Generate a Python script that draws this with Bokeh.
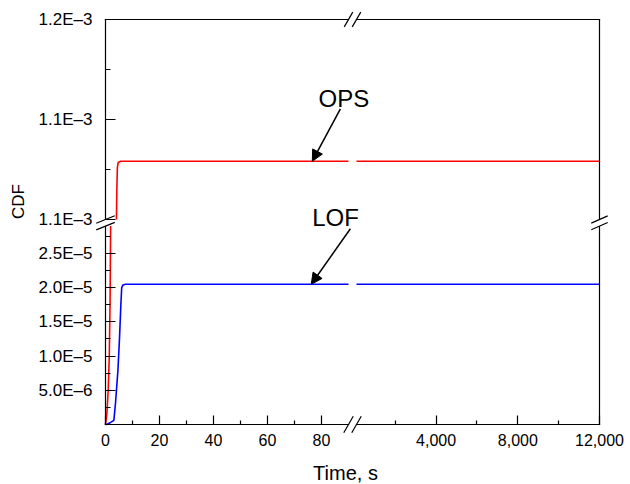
import math
from bokeh.plotting import figure
from bokeh.models import (Range1d, LinearAxis, FixedTicker, Label, Arrow,
                          NormalHead, CustomJSTickFormatter)
from bokeh.embed import file_html
from bokeh.resources import INLINE

# ---------------- data ----------------
# OPS curve: lower part (below the y break), upper part (left of x break), long-time part
ops_lo_t = [0.0, 0.5, 1.0, 1.4, 1.7, 1.9]
ops_lo_v = [0.0, 1.5e-6, 5.0e-6, 1.0e-5, 1.8e-5, 2.9e-5]
ops_up_t = [4.05, 4.2, 4.4, 4.7, 5.6, 90.0]
ops_up_v = [1.0e-3, 1.03e-3, 1.052e-3, 1.057e-3, 1.0583e-3, 1.0583e-3]
ops_long_t = [100.0, 12000.0]
ops_long_v = [1.0583e-3, 1.0583e-3]

# LOF curve
lof_t = [0.0, 0.4, 1.9, 3.1, 3.7, 4.6, 5.2, 5.7, 6.0, 6.5, 7.4, 90.0]
lof_v = [0.0, 0.0, 3.0e-7, 6.0e-7, 3.1e-6, 7.9e-6, 1.27e-5, 1.76e-5, 2.0e-5, 2.04e-5, 2.05e-5, 2.05e-5]
lof_long_t = [100.0, 12000.0]
lof_long_v = [2.05e-5, 2.05e-5]

# axis segments (data domains on each side of the breaks)
X_LEFT = (0.0, 90.0)
X_RIGHT = (100.0, 12000.0)
Y_UPPER = (1.0e-3, 1.2e-3)
Y_LOWER = (0.0, 2.9e-5)

# ticks and labels
x_left_ticks = [0, 20, 40, 60, 80]
x_left_minor = [10, 30, 50, 70]
x_left_labels = ["0", "20", "40", "60", "80"]
x_right_ticks = [4000, 8000, 12000]
x_right_minor = [2000, 6000, 10000]
x_right_labels = ["4,000", "8,000", "12,000"]
y_upper_ticks = [1.0e-3, 1.1e-3, 1.2e-3]
y_upper_minor = [1.05e-3, 1.15e-3]
y_upper_labels = ["1.1E\u20133", "1.1E\u20133", "1.2E\u20133"]
y_lower_ticks = [5e-6, 1e-5, 1.5e-5, 2e-5, 2.5e-5]
y_lower_minor = [2.5e-6, 7.5e-6, 1.25e-5, 1.75e-5, 2.25e-5, 2.75e-5]
y_lower_labels = ["5.0E\u20136", "1.0E\u20135", "1.5E\u20135", "2.0E\u20135", "2.5E\u20135"]

# ---------------- layout (pixels) ----------------
W, H = 630, 484
PX_L, PX_R, PX_T, PX_B = 105, 599, 19, 424
PX_XBRK = (348, 356)      # pixel end of left segment / start of right segment
PX_YBRK = (219, 225.6)    # pixel bottom of upper segment / top of lower segment
FONT = "Liberation Sans"


def x_range_for(v0, p0, v1, p1):
    k = (v1 - v0) / (p1 - p0)
    return Range1d(v0 - p0 * k, v0 + (W - p0) * k)


def y_range_for(v0, p0, v1, p1):
    k = (v1 - v0) / (p1 - p0)
    return Range1d(v0 + (H - p0) * k, v0 - p0 * k)


r_left = x_range_for(X_LEFT[0], PX_L, X_LEFT[1], PX_XBRK[0])
r_right = x_range_for(X_RIGHT[0], PX_XBRK[1], X_RIGHT[1], PX_R)
r_upper = y_range_for(Y_UPPER[0], PX_YBRK[0], Y_UPPER[1], PX_T)
r_lower = y_range_for(Y_LOWER[0], PX_B, Y_LOWER[1], PX_YBRK[1])


def px_x(v, r):
    return (v - r.start) / (r.end - r.start) * W


def px_y(v, r):
    return H - (v - r.start) / (r.end - r.start) * H


p = figure(width=W, height=H, x_range=r_left, y_range=r_lower,
           toolbar_location=None, output_backend="svg",
           x_axis_location=None, y_axis_location=None, min_border=0)
p.min_border_left = p.min_border_right = p.min_border_top = p.min_border_bottom = 0
p.extra_x_ranges = {"right": r_right, "px": Range1d(0, W)}
p.extra_y_ranges = {"upper": r_upper, "px": Range1d(H, 0)}
p.outline_line_color = None
p.background_fill_color = "white"
p.border_fill_color = "white"
for g in p.grid:
    g.visible = False


def fmt(ticks, labels):
    return CustomJSTickFormatter(args=dict(vals=ticks, labs=labels), code="""
        let b = 0;
        for (let i = 0; i < vals.length; i++) {
            if (Math.abs(vals[i] - tick) < Math.abs(vals[b] - tick)) b = i;
        }
        return labs[b];
    """)


def style(ax, tick_in, minor_in, standoff, size="16px"):
    ax.axis_line_color = "black"
    ax.axis_line_width = 1.2
    ax.axis_line_cap = "square"
    ax.major_tick_line_color = "black"
    ax.major_tick_line_width = 1.2
    ax.minor_tick_line_color = "black"
    ax.minor_tick_line_width = 1.2
    ax.major_tick_in = tick_in
    ax.major_tick_out = 0
    ax.minor_tick_in = minor_in
    ax.minor_tick_out = 0
    ax.major_label_standoff = standoff
    ax.major_label_text_font = FONT
    ax.major_label_text_font_size = size
    ax.major_label_text_color = "black"


def border(ax):
    ax.axis_line_color = "black"
    ax.axis_line_width = 1.2
    ax.axis_line_cap = "square"
    ax.major_tick_line_color = None
    ax.minor_tick_line_color = None
    ax.major_label_text_font_size = "0px"


# left y axes
ax = LinearAxis(y_range_name="upper", fixed_location=X_LEFT[0], bounds=Y_UPPER,
                ticker=FixedTicker(ticks=y_upper_ticks, minor_ticks=y_upper_minor),
                formatter=fmt(y_upper_ticks, y_upper_labels))
style(ax, 10, 5, 13, "17px")
p.add_layout(ax, "left")
ax = LinearAxis(fixed_location=X_LEFT[0], bounds=Y_LOWER,
                ticker=FixedTicker(ticks=y_lower_ticks, minor_ticks=y_lower_minor),
                formatter=fmt(y_lower_ticks, y_lower_labels))
style(ax, 10, 5, 13, "17px")
p.add_layout(ax, "left")

# bottom x axes
ax = LinearAxis(fixed_location=Y_LOWER[0], bounds=X_LEFT,
                ticker=FixedTicker(ticks=x_left_ticks, minor_ticks=x_left_minor),
                formatter=fmt(x_left_ticks, x_left_labels))
style(ax, 9, 4, 9)
p.add_layout(ax, "below")
ax = LinearAxis(x_range_name="right", fixed_location=Y_LOWER[0], bounds=X_RIGHT,
                ticker=FixedTicker(ticks=x_right_ticks, minor_ticks=x_right_minor),
                formatter=fmt(x_right_ticks, x_right_labels))
style(ax, 9, 4, 9)
p.add_layout(ax, "below")

# top and right borders
for xr, b in (("default", X_LEFT), ("right", X_RIGHT)):
    ax = LinearAxis(x_range_name=xr, y_range_name="upper", fixed_location=Y_UPPER[1],
                    bounds=b, ticker=FixedTicker(ticks=[]))
    border(ax)
    p.add_layout(ax, "above")
for yr, b in (("upper", Y_UPPER), ("default", Y_LOWER)):
    ax = LinearAxis(x_range_name="right", y_range_name=yr, fixed_location=X_RIGHT[1],
                    bounds=b, ticker=FixedTicker(ticks=[]))
    border(ax)
    p.add_layout(ax, "right")

# curves
LW = 1.6
p.line(ops_lo_t, ops_lo_v, line_color="#ff0000", line_width=LW)
p.line(ops_up_t, ops_up_v, line_color="#ff0000", line_width=LW, y_range_name="upper")
p.line(ops_long_t, ops_long_v, line_color="#ff0000", line_width=LW,
       x_range_name="right", y_range_name="upper")
p.line(lof_t, lof_v, line_color="#0000ff", line_width=LW)
p.line(lof_long_t, lof_long_v, line_color="#0000ff", line_width=LW, x_range_name="right")

# break marks, placed at the segment ends
xl = px_x(X_LEFT[1], r_left)
xrr = px_x(X_RIGHT[0], r_right)
yu = px_y(Y_UPPER[0], r_upper)
yl = px_y(Y_LOWER[1], r_lower)
ax_l = px_x(X_LEFT[0], r_left)
ax_r = px_x(X_RIGHT[1], r_right)
ax_t = px_y(Y_UPPER[1], r_upper)
ax_b = px_y(Y_LOWER[0], r_lower)

marks = []
for cy in (yu, yl):
    marks.append((ax_l, cy, 22, 10))
    marks.append((ax_r, cy, 24, 9))
for cx in (xl, xrr):
    marks.append((cx, ax_b, 60, 9.5))
    marks.append((cx, ax_t, 60, 8.5))
x0s, y0s, x1s, y1s = [], [], [], []
for cx, cy, ang, half in marks:
    dx = half * math.cos(math.radians(ang))
    dy = half * math.sin(math.radians(ang))
    x0s.append(cx - dx); y0s.append(cy + dy)
    x1s.append(cx + dx); y1s.append(cy - dy)
p.segment(x0=x0s, y0=y0s, x1=x1s, y1=y1s, line_color="black", line_width=1.2,
          x_range_name="px", y_range_name="px")

# annotations (labels are anchored by their bottom edge)
p.add_layout(Label(x=88.3, y=1.1207e-3, y_range_name="upper", text="OPS",
                   text_font=FONT, text_font_size="24px", text_color="black",
                   text_align="center", text_baseline="alphabetic"))
p.add_layout(Arrow(x_start=87.0, y_start=1.1107e-3, x_end=76.6, y_end=1.0583e-3,
                   y_range_name="upper", line_color="black", line_width=1.5,
                   end=NormalHead(size=11, fill_color="black", line_color="black", line_width=1)))
p.add_layout(Label(x=85.2, y=3.02e-5, text="LOF",
                   text_font=FONT, text_font_size="24px", text_color="black",
                   text_align="center", text_baseline="alphabetic"))
p.add_layout(Arrow(x_start=90.7, y_start=2.861e-5, x_end=76.2, y_end=2.05e-5,
                   line_color="black", line_width=1.5,
                   end=NormalHead(size=11, fill_color="black", line_color="black", line_width=1)))

# axis titles
p.add_layout(Label(x=18, y=201, x_range_name="px", y_range_name="px", text="CDF",
                   angle=90, angle_units="deg", text_font=FONT, text_font_size="17px",
                   text_color="black", text_align="center", text_baseline="middle"))
p.add_layout(Label(x=345, y=472, x_range_name="px", y_range_name="px", text="Time, s",
                   text_font=FONT, text_font_size="20px", text_color="black",
                   text_align="center", text_baseline="alphabetic"))

open("out.html", "w").write(file_html(p, INLINE))
